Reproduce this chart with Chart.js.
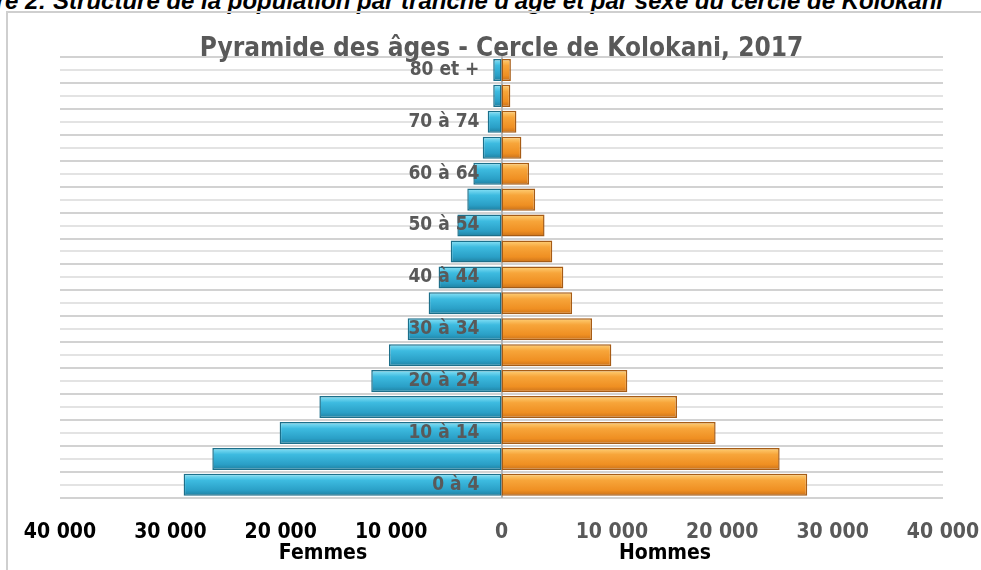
<!DOCTYPE html>
<html>
<head>
<meta charset="utf-8">
<script src="https://cdn.jsdelivr.net/npm/chart.js@4.4.1/dist/chart.umd.min.js"></script>
<style>
  html, body { margin: 0; padding: 0; background: #fff; overflow: hidden; }
  body { width: 981px; height: 570px; position: relative; }
  #legende {
    position: absolute; right: 38px; top: -13px; white-space: nowrap;
    font: italic bold 24px "Liberation Sans", Arial, sans-serif; color: #000;
  }
  #cadre {
    position: absolute; left: 6px; top: 11px; width: 990px; height: 570px;
    border-left: 2px solid #cfcfcf; border-top: 2px solid #cfcfcf;
  }
  #zone { position: absolute; left: 0; top: 0; width: 981px; height: 570px; }
  .sexe {
    position: absolute; top: 540px; font: bold 21px "Liberation Sans Narrow", "DejaVu Sans Condensed", sans-serif;
    color: #000; transform: translateX(-50%);
  }
</style>
</head>
<body>
<div id="legende">Figure 2: Structure de la population par tranche d'âge et par sexe du cercle de Kolokani</div>
<div id="cadre"></div>
<div id="zone"><canvas id="pyramide"></canvas></div>
<div class="sexe" style="left:323px">Femmes</div>
<div class="sexe" style="left:665px">Hommes</div>
<script>
// tranches d'âge, de bas en haut
const tranches = ['0 à 4', '5 à 9', '10 à 14', '15 à 19', '20 à 24', '25 à 29', '30 à 34', '35 à 39',
  '40 à 44', '45 à 49', '50 à 54', '55 à 59', '60 à 64', '65 à 69', '70 à 74', '75 à 79', '80 et +'];
const femmes = [28800, 26200, 20100, 16500, 11800, 10200, 8500, 6600, 5700, 4600, 4000, 3100, 2550, 1700, 1250, 750, 750];
const hommes = [27700, 25200, 19400, 15900, 11400, 9950, 8200, 6400, 5600, 4600, 3900, 3050, 2500, 1800, 1350, 800, 850];
const graduations = [-40000, -30000, -20000, -10000, 0, 10000, 20000, 30000, 40000];

const police = '"Liberation Sans Narrow", "DejaVu Sans Condensed", sans-serif';

function formaterMillier(v) {
  return String(Math.abs(v)).replace(/\B(?=(\d{3})+(?!\d))/g, ' ');
}

// dégradé vertical pour donner un peu de relief aux barres
function degrade(couleurs) {
  return function (context) {
    const chart = context.chart;
    const y = chart.scales.y;
    if (!y || context.dataIndex === undefined) return couleurs[1];
    const centre = y.getPixelForValue(context.dataIndex);
    const demi = Math.abs(y.getPixelForValue(1) - y.getPixelForValue(0)) * 0.85 / 2;
    if (!isFinite(centre) || !isFinite(demi) || demi === 0) return couleurs[1];
    const g = chart.ctx.createLinearGradient(0, centre - demi, 0, centre + demi);
    g.addColorStop(0, couleurs[0]);
    g.addColorStop(0.3, couleurs[1]);
    g.addColorStop(0.75, couleurs[2]);
    g.addColorStop(1, couleurs[3]);
    return g;
  };
}

const ctx = document.getElementById('pyramide').getContext('2d');
const graphe = new Chart(ctx, {
  type: 'bar',
  data: {
    labels: tranches,
    datasets: [{
      label: 'Femmes',
      data: femmes.map(v => -v),
      backgroundColor: degrade(['#8ee4f7', '#3dbbe0', '#2a9fc6', '#1f7f9f']),
      borderColor: '#1c6f8a',
      borderWidth: 1.5,
      borderSkipped: false
    }, {
      label: 'Hommes',
      data: hommes,
      backgroundColor: degrade(['#ffd27a', '#f7a53a', '#ef8f22', '#c8701a']),
      borderColor: '#a65c16',
      borderWidth: 1.5,
      borderSkipped: false
    }]
  },
  options: {
    indexAxis: 'y',
    responsive: true,
    maintainAspectRatio: false,
    animation: false,
    barPercentage: 0.85,
    categoryPercentage: 1,
    layout: { padding: { top: 36, bottom: 11, left: 60, right: 38 } },
    plugins: {
      legend: { display: false },
      tooltip: { enabled: false },
      title: {
        display: true,
        text: 'Pyramide des âges - Cercle de Kolokani, 2017',
        color: '#595959',
        font: { family: police, size: 26, weight: 'bold', lineHeight: 1 },
        padding: { top: 0, bottom: -5 }
      }
    },
    scales: {
      x: {
        stacked: true,
        min: -40000,
        max: 40000,
        afterBuildTicks: axe => { axe.ticks = graduations.map(v => ({ value: v })); },
        afterFit: axe => { axe.paddingLeft = 0; axe.paddingRight = 0; },
        grid: { display: false },
        border: { display: false },
        ticks: {
          padding: 14,
          maxRotation: 0,
          color: c => (c.tick && c.tick.value < 0 ? '#000000' : '#595959'),
          font: { family: police, size: 21, weight: 'bold' },
          callback: v => formaterMillier(v)
        }
      },
      y: {
        stacked: true,
        reverse: true,
        position: { x: 0 },
        grid: { display: false, drawTicks: false },
        border: { display: true, color: '#b4b4b4', width: 2 },
        ticks: { display: false }
      },
      etiquettes: {
        type: 'category',
        axis: 'y',
        labels: tranches,
        reverse: true,
        position: { x: -2000 },
        grid: { display: false, drawTicks: false },
        border: { display: false },
        ticks: {
          z: 1,
          autoSkip: false,
          padding: 0,
          color: '#595959',
          font: { family: police, size: 19, weight: 'bold' },
          callback: function (v, i) { return i % 2 === 0 ? tranches[i] : ''; }
        }
      },
      lignesA: {
        type: 'category',
        axis: 'y',
        labels: tranches,
        reverse: true,
        position: 'left',
        grid: { offset: true, color: '#d2d2d2', lineWidth: 2, drawTicks: false },
        border: { display: false },
        ticks: { display: false }
      },
      lignesB: {
        type: 'category',
        axis: 'y',
        labels: tranches,
        reverse: true,
        position: 'left',
        grid: { offset: false, color: '#e3e3e3', lineWidth: 2, drawTicks: false },
        border: { display: false },
        ticks: { display: false }
      }
    }
  }
});
</script>
</body>
</html>
